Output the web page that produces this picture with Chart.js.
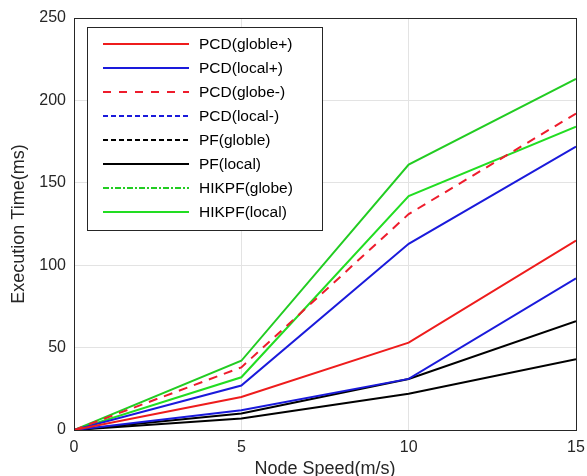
<!DOCTYPE html>
<html>
<head>
<meta charset="utf-8">
<script src="https://cdn.jsdelivr.net/npm/chart.js@4"></script>
<style>
  body { margin: 0; background: #fff; }
</style>
</head>
<body>
<canvas id="speedChart" width="587" height="476"></canvas>
<script>
// node speed (m/s)
var speeds = [0, 5, 10, 15];
var yTicks = [0, 50, 100, 150, 200, 250];

var seriesNames = ['PCD(globle+)', 'PCD(local+)', 'PCD(globe-)', 'PCD(local-)',
                   'PF(globle)', 'PF(local)', 'HIKPF(globe)', 'HIKPF(local)'];

var pcdGlobalPlus  = [0, 20, 53, 115];
var pcdLocalPlus   = [0, 12, 31, 92];
var pcdGlobalMinus = [0, 38, 131, 192];
var pcdLocalMinus  = [0, 27, 113, 172];
var pfGlobal       = [0, 10, 31, 66];
var pfLocal        = [0, 7, 22, 43];
var hikpfGlobal    = [0, 42, 161, 213];
var hikpfLocal     = [0, 32, 142, 184];

var values = [pcdGlobalPlus, pcdLocalPlus, pcdGlobalMinus, pcdLocalMinus,
              pfGlobal, pfLocal, hikpfGlobal, hikpfLocal];
var colors = ['#ee1c1c', '#1a1adb', '#ee1c2c', '#1a1adb', '#000000', '#000000', '#22cc22', '#22dd22'];
var plotDash = [[], [], [9, 7], [], [], [], [], []];
var legendDash = [[], [], [8, 8], [5, 3], [5, 3], [], [6, 2, 2, 2], []];

var datasets = seriesNames.map(function (name, i) {
    return {
        label: name,
        data: speeds.map(function (s, j) { return { x: s, y: values[i][j] }; }),
        borderColor: colors[i],
        borderWidth: 2,
        borderDash: plotDash[i],
        pointRadius: 0,
        fill: false,
        tension: 0
    };
});

var font = 'Liberation Sans, Arial, sans-serif';

// box around the plot + MATLAB-like legend inside
var matlabBox = {
    id: 'matlabBox',
    afterDraw: function (chart) {
        var c = chart.ctx, a = chart.chartArea;
        c.save();
        c.strokeStyle = '#262626';
        c.lineWidth = 1;
        c.strokeRect(a.left + 0.5, a.top + 0.5, a.right - a.left, a.bottom - a.top);

        var bx = 87, by = 27, bw = 235, bh = 203;
        c.fillStyle = '#fff';
        c.fillRect(bx, by, bw, bh);
        c.strokeStyle = '#262626';
        c.strokeRect(bx + 0.5, by + 0.5, bw, bh);
        c.font = '15.5px ' + font;
        c.textBaseline = 'middle';
        chart.data.datasets.forEach(function (ds, i) {
            var ly = 44 + i * 24;
            c.strokeStyle = ds.borderColor;
            c.lineWidth = 2;
            c.setLineDash(legendDash[i]);
            c.beginPath();
            c.moveTo(103, ly);
            c.lineTo(189, ly);
            c.stroke();
            c.setLineDash([]);
            c.fillStyle = '#000';
            c.fillText(ds.label, 199, ly + 1);
        });
        c.restore();
    }
};

new Chart(document.getElementById('speedChart').getContext('2d'), {
    type: 'line',
    data: { datasets: datasets },
    options: {
        responsive: false,
        animation: false,
        layout: { padding: { top: 18, right: 11, left: 0, bottom: 0 } },
        plugins: { legend: { display: false }, tooltip: { enabled: false } },
        scales: {
            x: {
                type: 'linear',
                min: 0, max: 15,
                afterBuildTicks: function (s) { s.ticks = speeds.map(function (v) { return { value: v }; }); },
                afterFit: function (s) { s.height = 46; s.paddingLeft = 0; s.paddingRight = 0; },
                grid: { color: '#e3e3e3', drawTicks: false },
                border: { color: '#262626' },
                ticks: { color: '#262626', font: { size: 16, family: font }, padding: 8, maxRotation: 0 },
                title: { display: true, text: 'Node Speed(m/s)', color: '#262626', font: { size: 18, family: font }, padding: { top: -4, bottom: -4 } }
            },
            y: {
                min: 0, max: 250,
                afterBuildTicks: function (s) { s.ticks = yTicks.map(function (v) { return { value: v }; }); },
                afterFit: function (s) { s.width = 74; s.paddingTop = 0; s.paddingBottom = 0; },
                grid: { color: '#e3e3e3', drawTicks: false },
                border: { color: '#262626' },
                ticks: { color: '#262626', font: { size: 16, family: font }, padding: 8 },
                title: { display: true, text: 'Execution Time(ms)', color: '#262626', font: { size: 18, family: font }, padding: { top: 8, bottom: 0 } }
            }
        }
    },
    plugins: [matlabBox]
});
</script>
</body>
</html>
